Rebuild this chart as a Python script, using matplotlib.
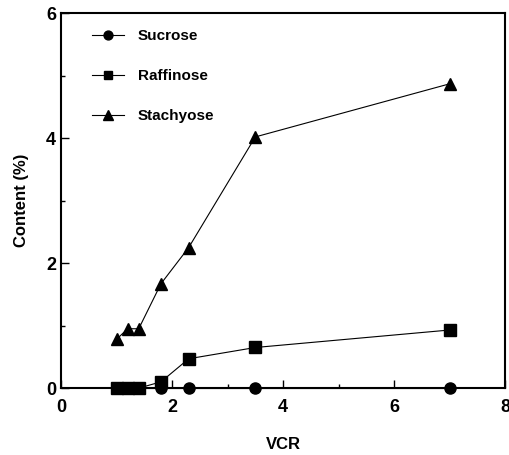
import matplotlib.pyplot as plt
from matplotlib.ticker import MultipleLocator

vcr = [1.0, 1.2, 1.4, 1.8, 2.3, 3.5, 7.0]
sucrose = [0, 0, 0, 0, 0, 0, 0]
raffinose = [0, 0, 0, 0.1, 0.47, 0.65, 0.93]
stachyose = [0.78, 0.95, 0.95, 1.67, 2.25, 4.02, 4.87]

plt.rcParams['font.family'] = ['Liberation Sans', 'DejaVu Sans']
plt.rcParams['font.weight'] = 'bold'

fig = plt.figure(figsize=(5.1, 4.55), dpi=100)
ax = fig.add_axes([0.1196, 0.147, 0.871, 0.824])

ax.plot(vcr, sucrose, 'k-', marker='o', ms=8, lw=0.8, clip_on=False, label='Sucrose')
ax.plot(vcr, raffinose, 'k-', marker='s', ms=8, lw=0.8, clip_on=False, label='Raffinose')
ax.plot(vcr, stachyose, 'k-', marker='^', ms=9, lw=0.8, clip_on=False, label='Stachyose')

ax.set_xlim(0, 8)
ax.set_ylim(0, 6)
ax.xaxis.set_major_locator(MultipleLocator(2))
ax.xaxis.set_minor_locator(MultipleLocator(1))
ax.yaxis.set_major_locator(MultipleLocator(2))
ax.yaxis.set_minor_locator(MultipleLocator(1))
ax.tick_params(which='both', direction='in', labelsize=13, width=1)
ax.tick_params(axis='x', which='both', pad=8)
ax.tick_params(which='major', length=6)
ax.tick_params(which='minor', length=3)
for s in ax.spines.values():
    s.set_linewidth(1.5)

ax.set_xlabel('VCR', fontsize=12, fontweight='bold', labelpad=15)
ax.set_ylabel('Content (%)', fontsize=12, fontweight='bold', labelpad=12)

leg = ax.legend(loc='upper left', bbox_to_anchor=(0.07, 0.957), frameon=False,
                fontsize=11, handlelength=2.1, labelspacing=1.7, borderpad=0,
                borderaxespad=0, handletextpad=0.9, markerscale=0.8)

fig.savefig('out.png', dpi=100)
